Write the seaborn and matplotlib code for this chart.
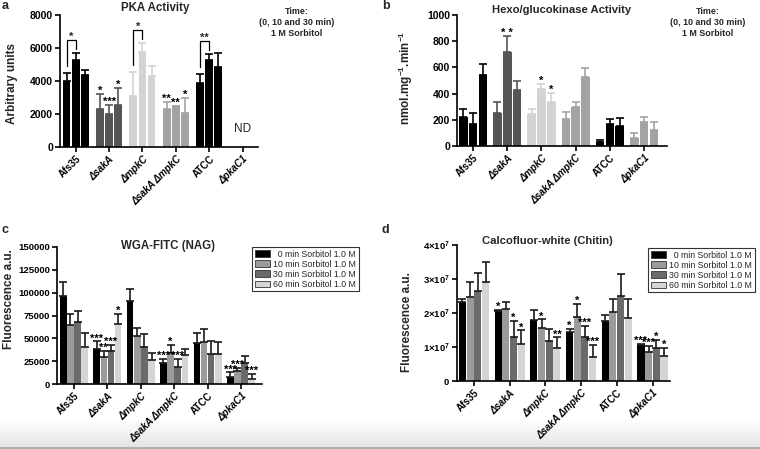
import numpy as np
import pandas as pd
import matplotlib
matplotlib.use("Agg")
import matplotlib.pyplot as plt
from matplotlib.patches import Patch
from matplotlib.ticker import FuncFormatter
import seaborn as sns

# ---------------- data ----------------
strains = ['Afs35', 'ΔsakA', 'ΔmpkC', 'ΔsakA ΔmpkC', 'ATCC', 'ΔpkaC1']
times3 = ['0 min', '10 min', '30 min']
times4 = ['0 min Sorbitol 1.0 M', '10 min Sorbitol 1.0 M',
          '30 min Sorbitol 1.0 M', '60 min Sorbitol 1.0 M']
legend_labels = ['  0 min Sorbitol 1.0 M', '10 min Sorbitol 1.0 M',
                 '30 min Sorbitol 1.0 M', '60 min Sorbitol 1.0 M']

nan = np.nan
# (a) PKA activity, arbitrary units (ΔpkaC1 not determined)
pka_t0 = [4000, 2330, 3100, 2330, 3890, nan]
pka_t10 = [5260, 2000, 5730, 2470, 5260, nan]
pka_t30 = [4390, 2570, 4290, 2090, 4820, nan]
pka_e0 = [455, 910, 1435, 400, 530, nan]
pka_e10 = [450, 550, 580, 40, 350, nan]
pka_e30 = [260, 1030, 630, 910, 850, nan]

# (b) Hexo/glucokinase activity
hex_t0 = [219, 249, 244, 208, 33, 63]
hex_t10 = [168, 715, 435, 300, 168, 181]
hex_t30 = [542, 427, 333, 524, 155, 122]
hex_e0 = [66, 89, 41, 51, 10, 38]
hex_e10 = [81, 124, 40, 38, 40, 38]
hex_e30 = [81, 71, 74, 74, 56, 59]

# (c) WGA-FITC
wga_t0 = [95900, 38300, 91200, 23300, 44900, 7300]
wga_t10 = [64900, 29900, 52900, 33900, 45600, 14600]
wga_t30 = [67500, 36500, 40500, 18600, 32800, 23000]
wga_t60 = [40100, 65700, 26600, 32000, 32800, 5800]
wga_e0 = [15400, 8400, 12800, 4100, 10900, 5400]
wga_e10 = [11700, 6600, 8400, 9100, 14600, 2900]
wga_e30 = [12000, 6500, 14300, 8800, 13900, 8000]
wga_e60 = [15700, 10900, 7300, 6000, 12800, 5100]

# (d) Calcofluor-white
cfw_t0 = [2.31e7, 2.05e7, 1.79e7, 1.44e7, 1.76e7, 1.05e7]
cfw_t10 = [2.48e7, 2.11e7, 1.57e7, 1.88e7, 2.02e7, 0.86e7]
cfw_t30 = [2.64e7, 1.28e7, 1.17e7, 1.28e7, 2.50e7, 0.98e7]
cfw_t60 = [2.92e7, 1.08e7, 0.97e7, 0.71e7, 1.84e7, 0.74e7]
cfw_e0 = [0.10e7, 0.05e7, 0.31e7, 0.10e7, 0.18e7, 0.05e7]
cfw_e10 = [0.42e7, 0.22e7, 0.24e7, 0.38e7, 0.38e7, 0.17e7]
cfw_e30 = [0.53e7, 0.48e7, 0.35e7, 0.34e7, 0.64e7, 0.22e7]
cfw_e60 = [0.57e7, 0.41e7, 0.31e7, 0.36e7, 0.56e7, 0.24e7]

# significance marks: (strain index, time index, label)
pka_stars = [(1, 0, '*'), (1, 1, '***'), (1, 2, '*'), (3, 0, '**'), (3, 1, '**'), (3, 2, '*')]
pka_brackets = [(0, '*'), (2, '*'), (4, '**')]
hex_stars = [(1, 1, '* *'), (2, 1, '*'), (2, 2, '*')]
wga_stars = [(1, 0, '***'), (1, 1, '**'), (1, 2, '***'), (1, 3, '*'),
             (3, 0, '***'), (3, 1, '*'), (3, 2, '***'),
             (5, 0, '***'), (5, 1, '***'), (5, 3, '***')]
cfw_stars = [(1, 0, '*'), (1, 2, '*'), (1, 3, '*'), (2, 1, '*'), (2, 3, '**'),
             (3, 0, '*'), (3, 1, '*'), (3, 2, '***'), (3, 3, '***'),
             (5, 0, '***'), (5, 1, '***'), (5, 2, '*'), (5, 3, '*')]

strain_colors = ['#000000', '#555555', '#d3d3d3', '#a3a3a3', '#000000', '#a3a3a3']
time_colors = ['#000000', '#9b9b9b', '#6a6a6a', '#d5d5d5']

# ---------------- style ----------------
sns.set_theme(style='ticks')
plt.rcParams['font.family'] = ['Liberation Sans', 'DejaVu Sans']
plt.rcParams['mathtext.fontset'] = 'custom'
plt.rcParams['mathtext.rm'] = 'Liberation Sans'
plt.rcParams['mathtext.bf'] = 'Liberation Sans:bold'
plt.rcParams['mathtext.it'] = 'Liberation Sans:italic'

W, H = 760, 449
fig = plt.figure(figsize=(W / 100, H / 100), dpi=100)

# faint grey band at the bottom of the picture
bg = fig.add_axes([0, 0, 1, 30 / H], zorder=-5)
grad = np.linspace(1.0, 0.89, 64).reshape(-1, 1)
bg.imshow(grad, cmap='gray', vmin=0, vmax=1, aspect='auto', extent=[0, 1, 0, 1])
bg.axhline(0.02, color='#a8a8a8', lw=1.2)
bg.set_xlim(0, 1); bg.set_ylim(0, 1)
bg.axis('off')


def px_axes(l, r, t, b):
    return fig.add_axes([l / W, 1 - b / H, (r - l) / W, (b - t) / H])


def make_df(series, labels):
    rows = []
    for lab, vals in zip(labels, series):
        for s, v in zip(strains, vals):
            rows.append({'strain': s, 'time': lab, 'value': v})
    return pd.DataFrame(rows).dropna()


def draw_panel(ax, series, errs, labels, palette, width, gap, by_strain, err_black):
    df = make_df(series, labels)
    sns.barplot(data=df, x='strain', y='value', hue='time', order=strains,
                hue_order=labels, palette=palette, errorbar=None, width=width,
                gap=gap, saturation=1, legend=False, ax=ax, linewidth=0)
    info = {}
    bar_conts = [c for c in ax.containers]
    for h, cont in enumerate(bar_conts):
        for p in cont.patches:
            xc = p.get_x() + p.get_width() / 2
            s = int(round(xc))
            hgt = p.get_height()
            if not np.isfinite(hgt):
                continue
            col = strain_colors[s] if by_strain else palette[h]
            if by_strain:
                p.set_facecolor(col)
            e = errs[h][s]
            ecol = '#1a1a1a' if err_black else col
            ax.errorbar([xc], [hgt], yerr=[[0], [e]], fmt='none', ecolor=ecol,
                        elinewidth=1.2, capsize=2.6, capthick=1.2, zorder=1)
            info[(s, h)] = (xc, hgt + e)
    return info


def style_axes(ax, xlim, ylim, yticks, tick_fs):
    ax.set_xlim(*xlim)
    ax.set_ylim(*ylim)
    ax.set_yticks(yticks)
    ax.set_xticks(range(len(strains)))
    ax.set_xticklabels(strains, rotation=45, ha='right', rotation_mode='anchor',
                       fontsize=7, fontweight='bold')
    for t in ax.get_xticklabels():
        if t.get_text().startswith('Δ'):
            t.set_fontstyle('italic')
    for t in ax.get_yticklabels():
        t.set_fontweight('bold')
        t.set_fontsize(tick_fs)
    ax.set_xlabel('')
    for sp in ['top', 'right']:
        ax.spines[sp].set_visible(False)
    for sp in ['left', 'bottom']:
        ax.spines[sp].set_linewidth(1.2)
        ax.spines[sp].set_color('black')
    ax.tick_params(axis='both', direction='out', length=3.5, width=1.2,
                   color='black', pad=1.5, labelcolor='black')
    ax.set_facecolor('none')


def stars(ax, info, marks, fs=8):
    for s, h, lab in marks:
        xc, top = info[(s, h)]
        ax.annotate(lab, (xc, top), xytext=(0, -1.5), textcoords='offset points',
                    ha='center', va='bottom', fontsize=fs, fontweight='bold',
                    color='black')


# ---------------- panel a ----------------
axa = px_axes(60, 258, 15, 147)
info_a = draw_panel(axa, [pka_t0, pka_t10, pka_t30], [pka_e0, pka_e10, pka_e30],
                    times3, time_colors[:3], 0.82, 0.15, True, False)
style_axes(axa, (-0.47, 5.46), (0, 8000), [0, 2000, 4000, 6000, 8000], 7.5)
axa.set_ylabel('Arbitrary units', fontsize=8.5, fontweight='bold')
axa.yaxis.set_label_coords(-0.21, 0.48)
stars(axa, info_a, pka_stars)
for s, lab in pka_brackets:
    x0, t0 = info_a[(s, 0)]
    x1, t1 = info_a[(s, 1)]
    ytop = max(t0, t1) + 800
    axa.plot([x0, x0, x1, x1], [t0 + 450, ytop, ytop, t1 + 250], color='black', lw=0.9)
    axa.annotate(lab, ((x0 + x1) / 2, ytop), xytext=(0, -1.5), textcoords='offset points',
                 ha='center', va='bottom', fontsize=8, fontweight='bold')
axa.text(5, 1100, 'ND', ha='center', va='center', fontsize=8.5)
axa.text(0.48, 1.05, 'PKA Activity', transform=axa.transAxes, ha='center',
         va='center', fontsize=8.3, fontweight='bold')

# ---------------- panel b ----------------
axb = px_axes(457, 667, 15, 146)
info_b = draw_panel(axb, [hex_t0, hex_t10, hex_t30], [hex_e0, hex_e10, hex_e30],
                    times3, time_colors[:3], 0.86, 0.12, True, False)
style_axes(axb, (-0.47, 5.67), (0, 1000), [0, 200, 400, 600, 800, 1000], 7.5)
axb.set_ylabel(r'nmol.mg$^{\mathbf{-1}}$.min$^{\mathbf{-1}}$', fontsize=8.5, fontweight='bold')
axb.yaxis.set_label_coords(-0.2, 0.52)
stars(axb, info_b, hex_stars)
axb.text(0.5, 1.04, 'Hexo/glucokinase Activity', transform=axb.transAxes, ha='center',
         va='center', fontsize=8.1, fontweight='bold')

# ---------------- panel c ----------------
axc = px_axes(57, 262, 247, 384)
info_c = draw_panel(axc, [wga_t0, wga_t10, wga_t30, wga_t60],
                    [wga_e0, wga_e10, wga_e30, wga_e60],
                    times4, time_colors, 0.86, 0.08, False, True)
style_axes(axc, (-0.51, 5.63), (0, 150000), [0, 25000, 50000, 75000, 100000, 125000, 150000], 6.8)
axc.set_ylabel('Fluorescence a.u.', fontsize=8.5, fontweight='bold')
axc.yaxis.set_label_coords(-0.205, 0.62)
stars(axc, info_c, wga_stars)
axc.text(0.54, 1.01, 'WGA-FITC (NAG)', transform=axc.transAxes, ha='center',
         va='center', fontsize=8.3, fontweight='bold')

# ---------------- panel d ----------------
axd = px_axes(457, 670, 245, 381)
info_d = draw_panel(axd, [cfw_t0, cfw_t10, cfw_t30, cfw_t60],
                    [cfw_e0, cfw_e10, cfw_e30, cfw_e60],
                    times4, time_colors, 0.86, 0.08, False, True)
style_axes(axd, (-0.476, 5.49), (0, 4e7), [0, 1e7, 2e7, 3e7, 4e7], 6.8)


def sci(v, pos):
    if v == 0:
        return r'$\mathbf{0}$'
    m = int(round(v / 1e7))
    return r'$\mathbf{%d{\times}10^{7}}$' % m


axd.yaxis.set_major_formatter(FuncFormatter(sci))
for t in axd.get_yticklabels():
    t.set_fontsize(6.8)
axd.set_ylabel('Fluorescence a.u.', fontsize=8.5, fontweight='bold')
axd.yaxis.set_label_coords(-0.205, 0.43)
stars(axd, info_d, cfw_stars)
axd.text(0.425, 1.03, 'Calcofluor-white (Chitin)', transform=axd.transAxes, ha='center',
         va='center', fontsize=8.1, fontweight='bold')

# ---------------- legends ----------------
handles = [Patch(facecolor=c, edgecolor='#333333', linewidth=0.6) for c in time_colors]
for ax, (lx, ly) in [(axc, (252, 247)), (axd, (648, 248))]:
    leg = ax.legend(handles, legend_labels, loc='upper left',
                    bbox_to_anchor=(lx / W, 1 - ly / H), bbox_transform=fig.transFigure,
                    frameon=True, fancybox=False, edgecolor='black', borderpad=0.3,
                    labelspacing=0.12, handlelength=1.75, handleheight=0.75,
                    handletextpad=0.4, borderaxespad=0,
                    prop={'size': 6.3, 'weight': 'normal'})
    leg.get_frame().set_linewidth(0.8)

# ---------------- free text ----------------
note = 'Time:\n(0, 10 and 30 min)\n1 M Sorbitol'
fig.text(297 / W, 1 - 7 / H, note, ha='center', va='top', fontsize=6.4,
         fontweight='bold', linespacing=1.3)
fig.text(708 / W, 1 - 7 / H, note, ha='center', va='top', fontsize=6.4,
         fontweight='bold', linespacing=1.3)
for lab, x, y in [('a', 2, 0), ('b', 382, 0), ('c', 2, 224), ('d', 382, 224)]:
    fig.text(x / W, 1 - y / H, lab, ha='left', va='top', fontsize=9, fontweight='bold')

fig.savefig('out.png', dpi=100)
